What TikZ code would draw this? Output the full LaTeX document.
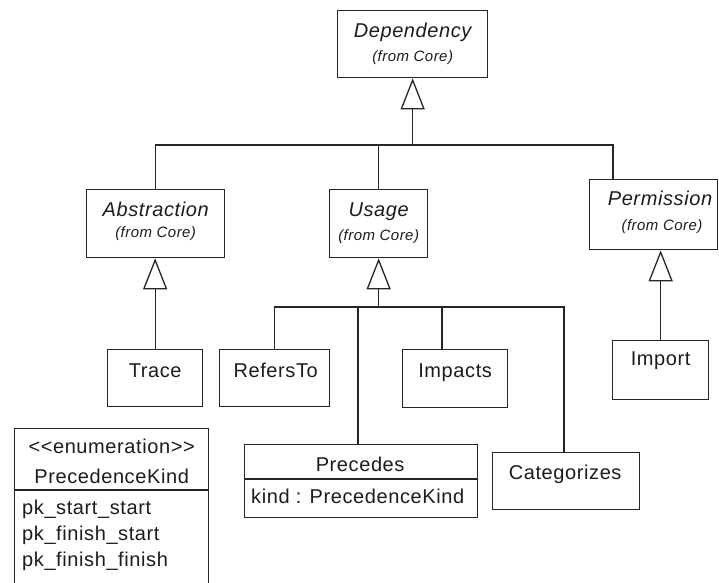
\documentclass[tikz,border=0pt]{standalone}
\usepackage{fontspec}
\setmainfont{Liberation Sans}
\newfontfamily\umlfont[LetterSpace=3]{Liberation Sans}
\usetikzlibrary{arrows.meta,calc}
\definecolor{inkline}{RGB}{42,34,46}
\definecolor{inktext}{RGB}{28,28,28}

\begin{document}
\begin{tikzpicture}[x=1pt,y=-1pt,
  box/.style={draw=inkline, line width=1.3pt, fill=white, inner sep=0pt, anchor=north west},
  conn/.style={draw=inkline, line width=1.3pt},
  gen/.style={conn, -{Triangle[open, length=31pt, width=24pt]}},
  nametxt/.style={font=\umlfont\fontsize{20}{24}\selectfont, text=inktext, anchor=base, inner sep=0pt},
  absttxt/.style={nametxt, font=\umlfont\fontsize{20}{24}\selectfont\itshape},
  fromtxt/.style={font=\umlfont\fontsize{15}{18}\selectfont\itshape, text=inktext, anchor=base, inner sep=0pt},
  attrtxt/.style={nametxt, anchor=base west}]

\useasboundingbox (0,0) rectangle (719,582);
\clip (0,0) rectangle (719,582);
\fill[white] (0,0) rectangle (719,582);

% abstract classes imported from Core
\node[box, minimum width=150pt, minimum height=67pt] (Dependency) at (337,10) {};
\node[absttxt] (DependencyName) at ($(Dependency.north)+(0,27)$) {Dependency};
\node[fromtxt] (DependencyFrom) at ($(Dependency.north)+(0,51)$) {(from Core)};

\node[box, minimum width=138pt, minimum height=68pt] (Abstraction) at (86,189) {};
\node[absttxt] (AbstractionName) at ($(Abstraction.north)+(0,27)$) {Abstraction};
\node[fromtxt] (AbstractionFrom) at ($(Abstraction.north)+(0,48)$) {(from Core)};

\node[box, minimum width=98pt, minimum height=68pt] (Usage) at (329,189) {};
\node[absttxt] (UsageName) at ($(Usage.north)+(0,27)$) {Usage};
\node[fromtxt] (UsageFrom) at ($(Usage.north)+(0,51)$) {(from Core)};

\node[box, minimum width=128pt, minimum height=70pt] (Permission) at (589,179) {};
\node[absttxt] (PermissionName) at (660,205) {Permission};
\node[fromtxt] (PermissionFrom) at (662,230) {(from Core)};

% concrete classes
\node[box, minimum width=95pt, minimum height=57pt] (Trace) at (107,349) {};
\node[nametxt] (TraceName) at ($(Trace.north)+(0,28)$) {Trace};

\node[box, minimum width=110pt, minimum height=57pt] (RefersTo) at (219,349) {};
\node[nametxt] (RefersToName) at ($(RefersTo.north)+(1,28)$) {RefersTo};

\node[box, minimum width=105pt, minimum height=58pt] (Impacts) at (402,349) {};
\node[nametxt] (ImpactsName) at ($(Impacts.north)+(0,28)$) {Impacts};

\node[box, minimum width=96pt, minimum height=59pt] (Import) at (612,340) {};
\node[nametxt] (ImportName) at ($(Import.north)+(0,25)$) {Import};

\node[box, minimum width=147pt, minimum height=57pt] (Categorizes) at (492,452) {};
\node[nametxt] (CategorizesName) at ($(Categorizes.north)+(-1,27)$) {Categorizes};

\node[box, minimum width=233pt, minimum height=73pt] (Precedes) at (244,444) {};
\draw[conn] (244,479) -- (477,479);
\node[nametxt] (PrecedesName) at ($(Precedes.north)+(-1,27)$) {Precedes};
\node[attrtxt] (PrecedesAttr) at (251,503) {kind : PrecedenceKind};

% enumeration, running past the lower edge
\node[box, minimum width=194pt, minimum height=180pt] (Kind) at (14,428) {};
\draw[conn] (14,490) -- (208,490);
\node[nametxt] (KindStereo) at ($(Kind.north)+(0,25)$) {<{}<enumeration>{}>};
\node[nametxt] (KindName) at ($(Kind.north)+(0,55)$) {PrecedenceKind};
\node[attrtxt] (KindA) at (22,514) {pk\_start\_start};
\node[attrtxt] (KindB) at (22,540) {pk\_finish\_start};
\node[attrtxt] (KindC) at (22,566) {pk\_finish\_finish};

% generalisation tree under Dependency
\coordinate (depBus) at (Dependency.south |- 0,145);
\coordinate (permJoin) at ($(Permission.north west)+(24,0)$);
\draw[gen] (depBus) -- (Dependency.south);
\draw[conn] (Abstraction.north) |- (depBus) -| (permJoin);
\draw[conn] (Usage.north) -- (Usage.north |- depBus);

% generalisation tree under Usage
\coordinate (useBus) at (Usage.south |- 0,307);
\coordinate (precJoin) at ($(Precedes.north west)+(114,0)$);
\coordinate (impJoin) at ($(Impacts.north west)+(40,0)$);
\coordinate (catJoin) at ($(Categorizes.north west)+(72,0)$);
\draw[gen] (useBus) -- (Usage.south);
\draw[conn] (RefersTo.north) |- (useBus) -| (catJoin);
\draw[conn] (precJoin) -- (precJoin |- useBus);
\draw[conn] (impJoin) -- (impJoin |- useBus);

% single generalisations
\draw[gen] (Trace.north) -- (Trace.north |- Abstraction.south);
\draw[gen] (Import.north) -- (Import.north |- Permission.south);

\end{tikzpicture}
\end{document}
